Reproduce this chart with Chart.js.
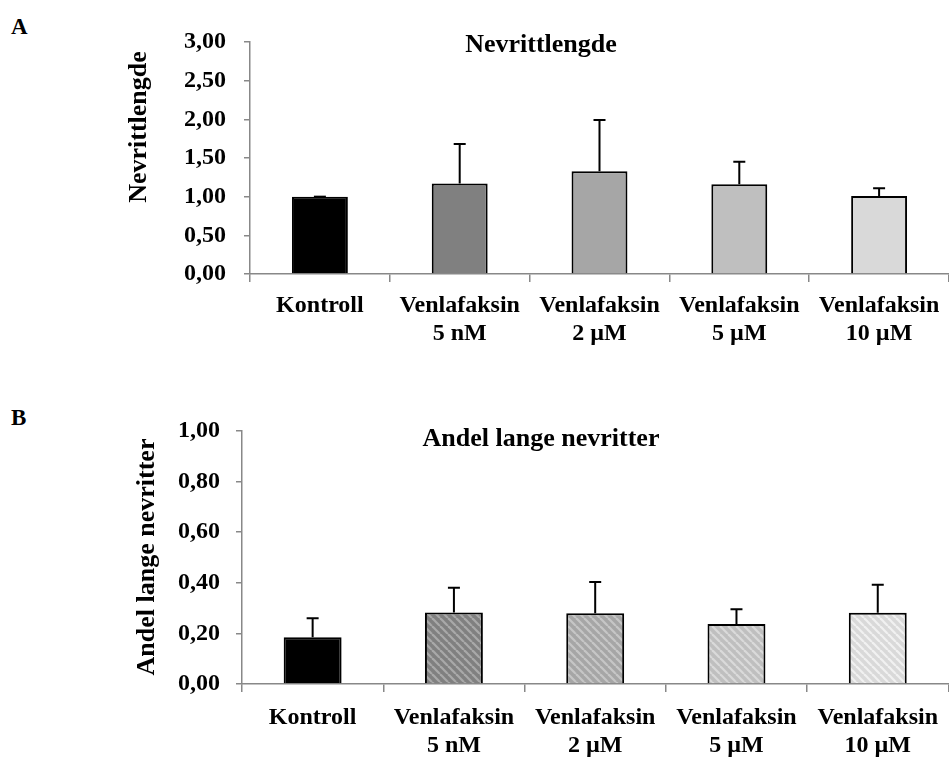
<!DOCTYPE html>
<html>
<head>
<meta charset="utf-8">
<script src="https://cdn.jsdelivr.net/npm/chart.js@4/dist/chart.umd.min.js"></script>
<style>
  html, body { margin: 0; padding: 0; background: #fff; }
  body {
    width: 949px; height: 759px; position: relative; overflow: hidden;
    font-family: "Liberation Serif", "Times New Roman", serif;
  }
  .panel { position: absolute; left: 0; width: 949px; }
  #panelA { top: 0; height: 370px; }
  #panelB { top: 370px; height: 389px; }
  .letter { position: absolute; left: 11px; font-weight: bold; font-size: 23px; line-height: 1; }
</style>
</head>
<body>
<div class="letter" style="top:15px">A</div>
<div class="letter" style="top:406px">B</div>
<div class="panel" id="panelA"><canvas id="chartA"></canvas></div>
<div class="panel" id="panelB"><canvas id="chartB"></canvas></div>
<script>
// categories shared by both panels
const categories = [
  'Kontroll',
  ['Venlafaksin', '5 nM'],
  ['Venlafaksin', '2 µM'],
  ['Venlafaksin', '5 µM'],
  ['Venlafaksin', '10 µM']
];

// A: Nevrittlengde (mean, upper SD)
const lengthValues = [1.00, 1.17, 1.33, 1.16, 1.01];
const lengthErrors = [0.00, 0.51, 0.66, 0.29, 0.10];
const lengthTicks = [0, 0.5, 1.0, 1.5, 2.0, 2.5, 3.0];

// B: Andel lange nevritter
const longValues = [0.185, 0.283, 0.280, 0.237, 0.282];
const longErrors = [0.075, 0.097, 0.123, 0.058, 0.110];
const longTicks = [0, 0.2, 0.4, 0.6, 0.8, 1.0];

const fills = ['#000000', '#808080', '#a6a6a6', '#bfbfbf', '#d9d9d9'];
const stripes = ['#000000', '#a9a9a9', '#c6c6c6', '#dadada', '#f1f1f1'];

const FONT = '"Liberation Serif", "Times New Roman", serif';
const AXIS = '#888888';

Chart.defaults.font.family = FONT;
Chart.defaults.font.weight = 'bold';
Chart.defaults.font.size = 24;
Chart.defaults.color = '#000';

function hatch(base, stripe) {
  const c = document.createElement('canvas');
  c.width = 8; c.height = 8;
  const g = c.getContext('2d');
  g.fillStyle = base;
  g.fillRect(0, 0, 8, 8);
  g.strokeStyle = stripe;
  g.lineWidth = 2.2;
  [-8, 0, 8].forEach(k => {
    g.beginPath();
    g.moveTo(k, 0);
    g.lineTo(k + 8, 8);
    g.stroke();
  });
  return g.createPattern(c, 'repeat');
}

const errorBars = {
  id: 'errorBars',
  afterDatasetsDraw(chart, args, opts) {
    const ctx = chart.ctx;
    const y = chart.scales.y;
    const values = chart.data.datasets[0].data;
    ctx.save();
    ctx.strokeStyle = '#000';
    ctx.lineWidth = 2;
    chart.getDatasetMeta(0).data.forEach((bar, i) => {
      const base = y.getPixelForValue(values[i]);
      const top = y.getPixelForValue(values[i] + opts.errors[i]);
      ctx.beginPath();
      ctx.moveTo(bar.x, base);
      ctx.lineTo(bar.x, top);
      ctx.moveTo(bar.x - 6, top);
      ctx.lineTo(bar.x + 6, top);
      ctx.stroke();
    });
    ctx.restore();
  }
};

const texts = {
  id: 'texts',
  afterDraw(chart, args, opts) {
    const ctx = chart.ctx;
    ctx.save();
    ctx.fillStyle = '#000';
    ctx.font = 'bold 26px ' + FONT;
    ctx.textAlign = 'center';
    ctx.textBaseline = 'alphabetic';
    ctx.fillText(opts.title, opts.titleX, opts.titleY);
    ctx.translate(opts.yTitleX, opts.yTitleY);
    ctx.rotate(-Math.PI / 2);
    ctx.textBaseline = 'middle';
    ctx.fillText(opts.yTitle, 0, 0);
    ctx.restore();
  }
};

function makeChart(id, cfg) {
  const fmt = v => v.toFixed(2).replace('.', ',');
  return new Chart(document.getElementById(id), {
    type: 'bar',
    data: {
      labels: categories,
      datasets: [{
        data: cfg.values,
        backgroundColor: cfg.colors,
        borderColor: '#000',
        borderWidth: 2,
        barPercentage: cfg.barPct,
        categoryPercentage: 1
      }]
    },
    options: {
      responsive: true,
      maintainAspectRatio: false,
      animation: false,
      layout: { padding: { top: cfg.top, right: 0, bottom: 0, left: 0 } },
      plugins: {
        legend: { display: false },
        tooltip: { enabled: false },
        errorBars: { errors: cfg.errors },
        texts: cfg.texts
      },
      scales: {
        x: {
          afterFit: s => { s.height = cfg.xHeight; },
          grid: { offset: true, drawOnChartArea: false, tickLength: 8, color: AXIS, lineWidth: 1.5 },
          border: { color: AXIS, width: 1.5 },
          ticks: { padding: cfg.xPad, maxRotation: 0, autoSkip: false }
        },
        y: {
          min: 0,
          max: cfg.max,
          afterFit: s => { s.width = cfg.yWidth; },
          afterBuildTicks: s => { s.ticks = cfg.ticks.map(v => ({ value: v })); },
          grid: { drawOnChartArea: false, tickLength: 6, color: AXIS, lineWidth: 1.5 },
          border: { color: AXIS, width: 1.5 },
          ticks: { padding: cfg.yPad, callback: fmt }
        }
      }
    },
    plugins: [errorBars, texts]
  });
}

makeChart('chartA', {
  values: lengthValues,
  errors: lengthErrors,
  ticks: lengthTicks,
  max: 3,
  colors: fills,
  barPct: 0.4,
  top: 42, xHeight: 96, yWidth: 250, xPad: 9, yPad: 18,
  texts: { title: 'Nevrittlengde', titleX: 541, titleY: 52, yTitle: 'Nevrittlengde', yTitleX: 139, yTitleY: 127 }
});

makeChart('chartB', {
  values: longValues,
  errors: longErrors,
  ticks: longTicks,
  max: 1,
  colors: fills.map((c, i) => i === 0 ? c : hatch(c, stripes[i])),
  barPct: 0.41,
  top: 61, xHeight: 75, yWidth: 242, xPad: 11, yPad: 16,
  texts: { title: 'Andel lange nevritter', titleX: 541, titleY: 76, yTitle: 'Andel lange nevritter', yTitleX: 147, yTitleY: 187 }
});
</script>
</body>
</html>
